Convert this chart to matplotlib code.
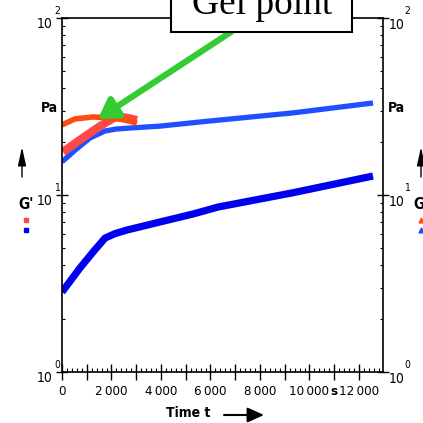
import matplotlib
matplotlib.use('Agg')
import matplotlib.pyplot as plt
from matplotlib.patches import Rectangle
from matplotlib.ticker import FixedLocator, MultipleLocator, LogLocator, NullFormatter
from matplotlib.transforms import offset_copy

# ---- data ----
t_gp_blue = [0, 727, 1253, 1737, 2141, 2626, 3960, 5293, 6303, 9333, 12566]
gp_blue = [2.83, 3.87, 4.76, 5.71, 6.05, 6.34, 7.04, 7.81, 8.55, 10.3, 12.8]
t_gpp_blue = [0, 525, 1131, 1737, 2200, 2747, 3960, 5980, 9333, 12566]
gpp_blue = [15.4, 17.9, 21.0, 23.0, 23.6, 23.9, 24.5, 26.2, 29.1, 33.1]
t_gp_red = [40, 727, 1535, 2222, 2667, 3030]
gp_red = [17.5, 20.5, 24.5, 27.9, 27.2, 26.5]
t_gpp_red = [0, 525, 1253, 1939, 2545, 3030]
gpp_red = [24.9, 26.9, 27.6, 27.3, 26.5, 25.5]

x_ticks = list(range(0, 13000, 1000))
x_labels = ['0', '', '2\u2009000', '', '4\u2009000', '', '6\u2009000', '', '8\u2009000', '',
            '10\u2009000', 's', '12\u2009000']
y_ticks = [1, 10, 100]
y_exps = ['0', '1', '2']

NARROW = ['DejaVu Sans', 'Liberation Sans']
plt.rcParams['font.family'] = NARROW
plt.rcParams['font.stretch'] = 'condensed'

W = 423.0
fig = plt.figure(figsize=(4.23, 4.23), dpi=100)
ax = fig.add_axes([62 / W, 51 / W, 321 / W, 354 / W])
ax.set_yscale('log')
ax.set_ylim(1, 100)
ax.set_xlim(0, 12970)

for s in ax.spines.values():
    s.set_linewidth(1.2)

ax.plot(t_gp_blue, gp_blue, color='#0000ee', lw=5.2, solid_capstyle='butt')
ax.plot(t_gpp_blue, gpp_blue, color='#1f4fff', lw=3.8, solid_capstyle='butt')
ax.plot(t_gp_red, gp_red, color='#ff4848', lw=6.0, solid_capstyle='butt')
ax.plot(t_gpp_red, gpp_red, color='#ff4a12', lw=4.0, solid_capstyle='butt')

# x axis ticks
ax.xaxis.set_major_locator(FixedLocator(x_ticks))
ax.xaxis.set_minor_locator(MultipleLocator(200))
ax.set_xticklabels(x_labels)
ax.tick_params(axis='x', which='major', direction='inout', length=11, width=1,
               top=False, bottom=True, labelsize=9.5, pad=4)
ax.tick_params(axis='x', which='minor', direction='in', length=3, width=0.8,
               top=False, bottom=True)
for lab in ax.get_xticklabels():
    if lab.get_text() == 's':
        lab.set_fontweight('bold')

# y axis ticks
ax.yaxis.set_major_locator(FixedLocator(y_ticks))
ax.yaxis.set_minor_locator(LogLocator(base=10, subs=range(2, 10), numticks=10))
ax.yaxis.set_minor_formatter(NullFormatter())
ax.tick_params(axis='y', which='major', direction='inout', length=9, width=1,
               left=True, right=True, labelleft=False, labelright=False)
ax.tick_params(axis='y', which='minor', direction='in', length=2.5, width=0.8,
               left=True, right=True)

ytr = ax.get_yaxis_transform()
for v, e in zip(y_ticks, y_exps):
    ax.text(0, v, '10', transform=offset_copy(ytr, fig=fig, x=-9, y=-6, units='dots'),
            ha='right', va='center', fontsize=10)
    ax.text(0, v, e, transform=offset_copy(ytr, fig=fig, x=-8, y=7, units='dots'),
            ha='left', va='center', fontsize=7.5)
    ax.text(1, v, '10', transform=offset_copy(ytr, fig=fig, x=6, y=-7, units='dots'),
            ha='left', va='center', fontsize=10)
    ax.text(1, v, e, transform=offset_copy(ytr, fig=fig, x=21, y=7, units='dots'),
            ha='left', va='center', fontsize=7.5)

def F(x, y):
    return (x / W, 1 - y / W)

# units
fig.text(*F(49, 108), 'Pa', ha='center', va='center', fontsize=10, fontweight='bold')
fig.text(*F(396, 108), 'Pa', ha='center', va='center', fontsize=10, fontweight='bold')

# G' / G'' symbols
fig.text(*F(26, 204), "G'", ha='center', va='center', fontsize=11, fontweight='bold')
fig.text(*F(413, 204), "G''", ha='left', va='center', fontsize=11, fontweight='bold')
fig.add_artist(plt.Line2D([26 / W], [1 - 220 / W], marker='s', color='#ff4848', ms=3.5,
                          transform=fig.transFigure, ls='none'))
fig.add_artist(plt.Line2D([26 / W], [1 - 230 / W], marker='s', color='#0000ee', ms=3.5,
                          transform=fig.transFigure, ls='none'))
fig.add_artist(plt.Line2D([421 / W], [1 - 220 / W], marker='^', color='#ff4a12', ms=3.5,
                          transform=fig.transFigure, ls='none'))
fig.add_artist(plt.Line2D([421 / W], [1 - 230 / W], marker='^', color='#1f4fff', ms=3.5,
                          transform=fig.transFigure, ls='none'))

# up arrows
for xa in (22, 421):
    ax.annotate('', xy=(xa, W - 147), xycoords='figure pixels',
                xytext=(xa, W - 177), textcoords='figure pixels',
                arrowprops=dict(arrowstyle='-|>,head_length=1.6,head_width=0.35',
                                color='black', lw=1.0, mutation_scale=7,
                                shrinkA=0, shrinkB=0),
                annotation_clip=False)

# Time t label with arrow
fig.text(*F(188, 413), 'Time t', ha='center', va='center', fontsize=10, fontweight='bold')
ax.annotate('', xy=(264, W - 415), xycoords='figure pixels',
            xytext=(224, W - 415), textcoords='figure pixels',
            arrowprops=dict(arrowstyle='-|>,head_length=1.0,head_width=0.45',
                            color='black', lw=1.5, mutation_scale=10,
                            shrinkA=0, shrinkB=0),
            annotation_clip=False)

# Gel point box
box = Rectangle(F(171, 32), (352 - 171) / W, 50 / W, transform=fig.transFigure,
                facecolor='white', edgecolor='black', lw=1.5, zorder=5)
fig.add_artist(box)
fig.text(*F(262, 14), 'Gel point', ha='center', va='baseline', fontsize=27,
         family=['Liberation Serif', 'DejaVu Serif'], fontstretch='normal', zorder=6)

# green arrow
ax.annotate('', xy=(98, W - 119), xycoords='figure pixels',
            xytext=(231, W - 32), textcoords='figure pixels',
            arrowprops=dict(arrowstyle='-|>,head_length=0.8,head_width=0.5',
                            color='#33cc33', lw=4.5, mutation_scale=14,
                            shrinkA=0, shrinkB=0),
            annotation_clip=False, zorder=7)

fig.savefig('out.png', dpi=100)
